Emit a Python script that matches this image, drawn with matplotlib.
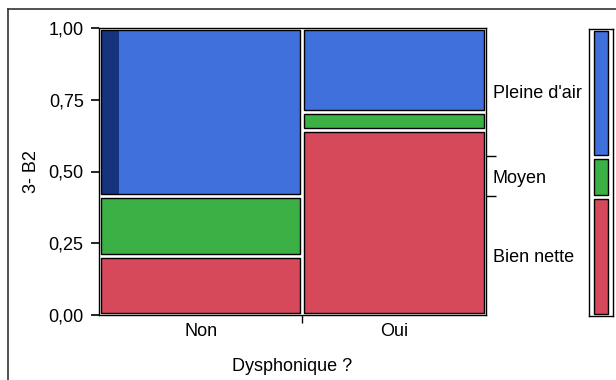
import numpy as np
import matplotlib.pyplot as plt
from matplotlib.patches import Rectangle
from matplotlib.lines import Line2D

plt.rcParams['font.family'] = ['Liberation Sans', 'DejaVu Sans']
plt.rcParams['font.size'] = 13

# Dysphonique ? (columns) x 3- B2 (levels stacked from the bottom)
groups = ['Non', 'Oui']
group_share = [0.525, 0.475]
levels = ['Bien nette', 'Moyen', "Pleine d'air"]
level_share = {
    'Non': [0.206, 0.210, 0.584],
    'Oui': [0.643, 0.064, 0.293],
}
# share of selected rows in the Non / Pleine d'air cell
selected_share = 0.09

colors = ['#d5495a', '#3bb044', '#4070dc']
sel_color = '#15347d'
yticks = [0, 0.25, 0.5, 0.75, 1.0]
ytick_labels = ['0,00', '0,25', '0,50', '0,75', '1,00']

W, H = 616, 380
fig = plt.figure(figsize=(W / 100, H / 100), dpi=100)

def fbox(x0, y0, x1, y1):
    return [x0 / W, 1 - y1 / H, (x1 - x0) / W, (y1 - y0) / H]

ax = fig.add_axes(fbox(99, 28, 486, 315))
ax.set_xlim(0, 1)
ax.set_ylim(0, 1)

gx = 2.0 / 387
gy = 2.0 / 287

def cell(a, x, y, w, h, fc, sel=0.0):
    a.add_patch(Rectangle((x + gx, y + gy), w - 2 * gx, h - 2 * gy,
                          facecolor=fc, edgecolor='none', zorder=2))
    if sel > 0:
        a.add_patch(Rectangle((x + gx, y + gy), (w - 2 * gx) * sel, h - 2 * gy,
                              facecolor=sel_color, edgecolor='none', zorder=3))
    a.add_patch(Rectangle((x + gx, y + gy), w - 2 * gx, h - 2 * gy,
                          facecolor='none', edgecolor='black', lw=1.0, zorder=4))

x0 = 0.0
bounds = []
centers = []
for g, gw in zip(groups, group_share):
    y0 = 0.0
    for k, (p, c) in enumerate(zip(level_share[g], colors)):
        sel = selected_share if (g == 'Non' and k == 2) else 0.0
        cell(ax, x0, y0, gw, p, c, sel)
        y0 += p
    centers.append(x0 + gw / 2)
    x0 += gw
    bounds.append(x0)

for s in ax.spines.values():
    s.set_linewidth(1.0)
    s.set_color('black')

ax.set_yticks(yticks)
ax.set_yticklabels(ytick_labels)
ax.tick_params(axis='y', length=6, width=1.2, pad=5)

# boundary tick between columns, labels centred on columns
ax.set_xticks(bounds[:-1])
ax.set_xticklabels([])
ax.set_xticks(centers, minor=True)
ax.set_xticklabels(groups, minor=True)
ax.tick_params(axis='x', which='major', length=6, width=1.0)
ax.tick_params(axis='x', which='minor', length=0, pad=6)

ax.set_ylabel('3- B2', labelpad=6)
ax.set_xlabel('Dysphonique ?', labelpad=13)

# marginal distribution of 3- B2
marg = np.array([sum(gw * level_share[g][k] for g, gw in zip(groups, group_share))
                 for k in range(len(levels))])
cum = np.concatenate([[0], np.cumsum(marg)])

ax2 = ax.twinx()
ax2.set_ylim(0, 1)
ax2.set_yticks(cum[1:-1])
ax2.set_yticklabels([])
ax2.set_yticks((cum[:-1] + cum[1:]) / 2, minor=True)
ax2.set_yticklabels(levels, minor=True)
ax2.tick_params(axis='y', which='major', length=7, width=1.0)
ax2.tick_params(axis='y', which='minor', length=0, pad=5)
for s in ax2.spines.values():
    s.set_visible(False)

axm = fig.add_axes(fbox(589, 29, 613, 316))
axm.set_xlim(0, 1)
axm.set_ylim(0, 1)
axm.set_xticks([])
axm.set_yticks([])
gxm = 5.0 / 24
for k in range(len(levels)):
    lo, hi = cum[k], cum[k + 1]
    axm.add_patch(Rectangle((gxm, lo + gy), 1 - 2 * gxm, hi - lo - 2 * gy,
                            facecolor=colors[k], edgecolor='black', lw=1.0))
for s in axm.spines.values():
    s.set_linewidth(1.0)
    s.set_color('black')

# outer report frame
fig.add_artist(Line2D([8 / W, 8 / W], [0, 1 - 9 / H], color='#333333', lw=1.2,
                      transform=fig.transFigure))
fig.add_artist(Line2D([8 / W, 1], [1 - 9 / H, 1 - 9 / H], color='#333333', lw=1.2,
                      transform=fig.transFigure))

fig.savefig('out.png', dpi=100)
